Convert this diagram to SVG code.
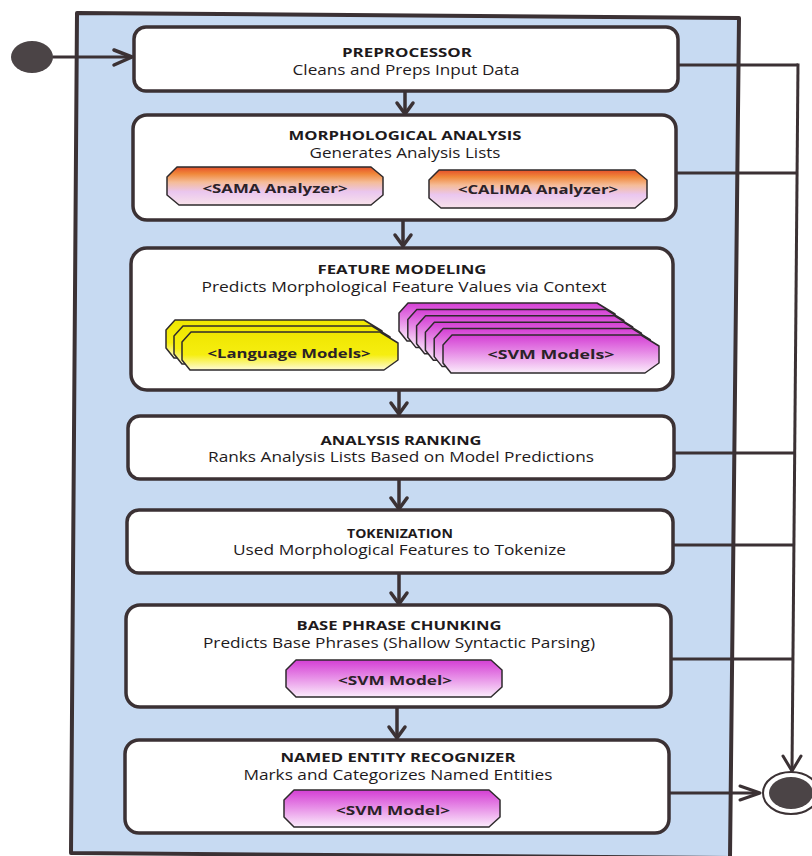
<svg xmlns="http://www.w3.org/2000/svg" width="812" height="856" viewBox="0 0 812 856">
  <defs>
    <linearGradient id="gAnalyzer" x1="0" y1="0" x2="0" y2="1">
      <stop offset="0" stop-color="#e6502a"/>
      <stop offset="0.18" stop-color="#f0883a"/>
      <stop offset="0.4" stop-color="#f5bc98"/>
      <stop offset="0.65" stop-color="#eac6ef"/>
      <stop offset="1" stop-color="#f8e2ea"/>
    </linearGradient>
    <linearGradient id="gSvm" x1="0" y1="0" x2="0" y2="1">
      <stop offset="0" stop-color="#d43ed4"/>
      <stop offset="0.45" stop-color="#e68ae6"/>
      <stop offset="1" stop-color="#fbecfb"/>
    </linearGradient>
    <linearGradient id="gLang" x1="0" y1="0" x2="0" y2="1">
      <stop offset="0" stop-color="#efe600"/>
      <stop offset="0.6" stop-color="#f6ee10"/>
      <stop offset="1" stop-color="#fffbd8"/>
    </linearGradient>
    <style>
      .frame { fill: #c7daf2; stroke: #3b3134; stroke-width: 4; stroke-linejoin: round; }
      .box { fill: #ffffff; stroke: #3b3134; stroke-width: 3.5; }
      .title { font-family: "Open Sans", "Liberation Sans", sans-serif; font-weight: bold; font-size: 12.5px; fill: #1e1a1c; text-anchor: middle; }
      .sub { font-family: "Open Sans", "Liberation Sans", sans-serif; font-size: 14.5px; fill: #1e1a1c; text-anchor: middle; }
      .tag { font-family: "Open Sans", "Liberation Sans", sans-serif; font-weight: bold; font-size: 12.5px; fill: #2a2228; text-anchor: middle; }
      .art { stroke: #2e2a2c; stroke-width: 1.5; stroke-linejoin: round; }
      .analyzer { fill: url(#gAnalyzer); }
      .svm { fill: url(#gSvm); }
      .lang { fill: url(#gLang); }
      .wire { fill: none; stroke: #3b3134; stroke-width: 3.5; stroke-linecap: round; stroke-linejoin: round; }
      .bus { fill: none; stroke: #3b3134; stroke-width: 3; }
      .head { fill: none; stroke: #3b3134; stroke-width: 3.5; stroke-linecap: round; stroke-linejoin: round; }
    </style>
  </defs>

  <rect width="812" height="856" fill="#ffffff"/>

  <!-- activity partition frame -->
  <polygon class="frame" points="77,13 739,18 730,858 71,853"/>

  <!-- connectors -->
  <g id="connectors">
    <!-- initial node to preprocessor -->
    <line class="wire" x1="53" y1="57" x2="131" y2="57" style="stroke-width:3"/>
    <polyline class="head" points="114,50 132,57 114,65"/>

    <!-- stage-to-stage flows -->
    <line class="wire" x1="405" y1="91" x2="405" y2="113"/>
    <polyline class="head" points="397,103 405,114 413,103"/>
    <line class="wire" x1="403" y1="220" x2="403" y2="245"/>
    <polyline class="head" points="395,235 403,246 411,235"/>
    <line class="wire" x1="399" y1="390" x2="399" y2="413"/>
    <polyline class="head" points="391,403 399,414 407,403"/>
    <line class="wire" x1="399" y1="479" x2="399" y2="508"/>
    <polyline class="head" points="391,498 399,509 407,498"/>
    <line class="wire" x1="399" y1="573" x2="399" y2="603"/>
    <polyline class="head" points="391,593 399,604 407,593"/>
    <line class="wire" x1="397" y1="707" x2="397" y2="737"/>
    <polyline class="head" points="389,727 397,738 405,727"/>

    <!-- early exits to the final node -->
    <line class="bus" x1="678" y1="65" x2="798" y2="65"/>
    <line class="bus" x1="676" y1="173" x2="797" y2="173"/>
    <line class="bus" x1="674" y1="453" x2="795" y2="453"/>
    <line class="bus" x1="673" y1="545" x2="794" y2="545"/>
    <line class="bus" x1="671" y1="659" x2="793" y2="659"/>
    <line class="bus" x1="798" y1="63.5" x2="792" y2="770"/>
    <polyline class="head" points="783,756 792,771 801,756" style="stroke-width:3"/>

    <!-- named entity recognizer to final node -->
    <line class="bus" x1="669" y1="793" x2="759" y2="793"/>
    <polyline class="head" points="740,786 760,793 740,800" style="stroke-width:3"/>
  </g>

  <!-- initial node -->
  <g id="start">
    <ellipse cx="32" cy="57" rx="21" ry="16" fill="#4b4446"/>
  </g>

  <!-- final node -->
  <g id="end">
    <ellipse cx="791" cy="793" rx="28" ry="21" fill="#ffffff" stroke="#3b3134" stroke-width="2"/>
    <ellipse cx="791" cy="793" rx="22" ry="16" fill="#4b4446"/>
  </g>

  <g id="preprocessor">
    <rect class="box" x="134" y="27" width="544" height="64" rx="12"/>
    <text class="title" x="407" y="56.5" textLength="130" lengthAdjust="spacingAndGlyphs">PREPROCESSOR</text>
    <text class="sub" x="406" y="75" textLength="227" lengthAdjust="spacingAndGlyphs">Cleans and Preps Input Data</text>
  </g>

  <g id="morphological-analysis">
    <rect class="box" x="133" y="115" width="543" height="105" rx="14"/>
    <text class="title" x="405" y="139.5" textLength="233" lengthAdjust="spacingAndGlyphs">MORPHOLOGICAL ANALYSIS</text>
    <text class="sub" x="405" y="158" textLength="191" lengthAdjust="spacingAndGlyphs">Generates Analysis Lists</text>
    <path class="art analyzer" d="M177,167 H371 L383,177 V195 L371,205 H179 L167,195 V177 Z"/>
    <text class="tag" x="275" y="192.5" textLength="145" lengthAdjust="spacingAndGlyphs">&lt;SAMA Analyzer&gt;</text>
    <path class="art analyzer" d="M439,170 H635 L647,180 V198 L635,208 H441 L429,198 V180 Z"/>
    <text class="tag" x="538" y="193.5" textLength="160" lengthAdjust="spacingAndGlyphs">&lt;CALIMA Analyzer&gt;</text>
  </g>

  <g id="feature-modeling">
    <rect class="box" x="131" y="248" width="542" height="142" rx="16"/>
    <text class="title" x="402" y="273.5" textLength="169" lengthAdjust="spacingAndGlyphs">FEATURE MODELING</text>
    <text class="sub" x="404" y="292" textLength="405" lengthAdjust="spacingAndGlyphs">Predicts Morphological Feature Values via Context</text>
    <!-- language model stack -->
    <path class="art lang" d="M175,320 H364 L382,331 V348 L368,358 H174 L166,348 V330 Z"/>
    <path class="art lang" d="M183,326 H372 L390,337 V354 L376,364 H182 L174,354 V336 Z"/>
    <path class="art lang" d="M191,332 H380 L398,343 V360 L384,370 H190 L182,360 V342 Z"/>
    <text class="tag" x="289" y="357.5" textLength="163" lengthAdjust="spacingAndGlyphs">&lt;Language Models&gt;</text>
    <!-- SVM model stack -->
    <path class="art svm" d="M408,303 H597 L615,314 V331 L601,341 H407 L399,331 V313 Z"/>
    <path class="art svm" d="M416.8,309.4 H605.8 L623.8,320.4 V337.4 L609.8,347.4 H415.8 L407.8,337.4 V319.4 Z"/>
    <path class="art svm" d="M425.6,315.8 H614.6 L632.6,326.8 V343.8 L618.6,353.8 H424.6 L416.6,343.8 V325.8 Z"/>
    <path class="art svm" d="M434.4,322.2 H623.4 L641.4,333.2 V350.2 L627.4,360.2 H433.4 L425.4,350.2 V332.2 Z"/>
    <path class="art svm" d="M443.2,328.6 H632.2 L650.2,339.6 V356.6 L636.2,366.6 H442.2 L434.2,356.6 V338.6 Z"/>
    <path class="art svm" d="M452,335 H641 L659,346 V363 L645,373 H451 L443,363 V345 Z"/>
    <text class="tag" x="551" y="359" textLength="127" lengthAdjust="spacingAndGlyphs">&lt;SVM Models&gt;</text>
  </g>

  <g id="analysis-ranking">
    <rect class="box" x="128" y="416" width="546" height="63" rx="12"/>
    <text class="title" x="401" y="444.5" textLength="161" lengthAdjust="spacingAndGlyphs">ANALYSIS RANKING</text>
    <text class="sub" x="401" y="462" textLength="386" lengthAdjust="spacingAndGlyphs">Ranks Analysis Lists Based on Model Predictions</text>
  </g>

  <g id="tokenization">
    <rect class="box" x="127" y="510" width="546" height="63" rx="12"/>
    <text class="title" x="400" y="537.5" textLength="106" lengthAdjust="spacingAndGlyphs">TOKENIZATION</text>
    <text class="sub" x="399.5" y="555" textLength="333" lengthAdjust="spacingAndGlyphs">Used Morphological Features to Tokenize</text>
  </g>

  <g id="base-phrase-chunking">
    <rect class="box" x="126" y="605" width="545" height="102" rx="14"/>
    <text class="title" x="399" y="629.5" textLength="205" lengthAdjust="spacingAndGlyphs">BASE PHRASE CHUNKING</text>
    <text class="sub" x="399" y="648" textLength="392" lengthAdjust="spacingAndGlyphs">Predicts Base Phrases (Shallow Syntactic Parsing)</text>
    <path class="art svm" d="M296,660 H491 L502,670 V687 L491,697 H296 L286,687 V670 Z"/>
    <text class="tag" x="395" y="684.5" textLength="114" lengthAdjust="spacingAndGlyphs">&lt;SVM Model&gt;</text>
  </g>

  <g id="named-entity-recognizer">
    <rect class="box" x="125" y="740" width="544" height="93" rx="14"/>
    <text class="title" x="398" y="761.5" textLength="235" lengthAdjust="spacingAndGlyphs">NAMED ENTITY RECOGNIZER</text>
    <text class="sub" x="398" y="780" textLength="309" lengthAdjust="spacingAndGlyphs">Marks and Categorizes Named Entities</text>
    <path class="art svm" d="M294,790 H489 L500,800 V817 L489,827 H294 L284,817 V800 Z"/>
    <text class="tag" x="393" y="814.5" textLength="114" lengthAdjust="spacingAndGlyphs">&lt;SVM Model&gt;</text>
  </g>
</svg>
